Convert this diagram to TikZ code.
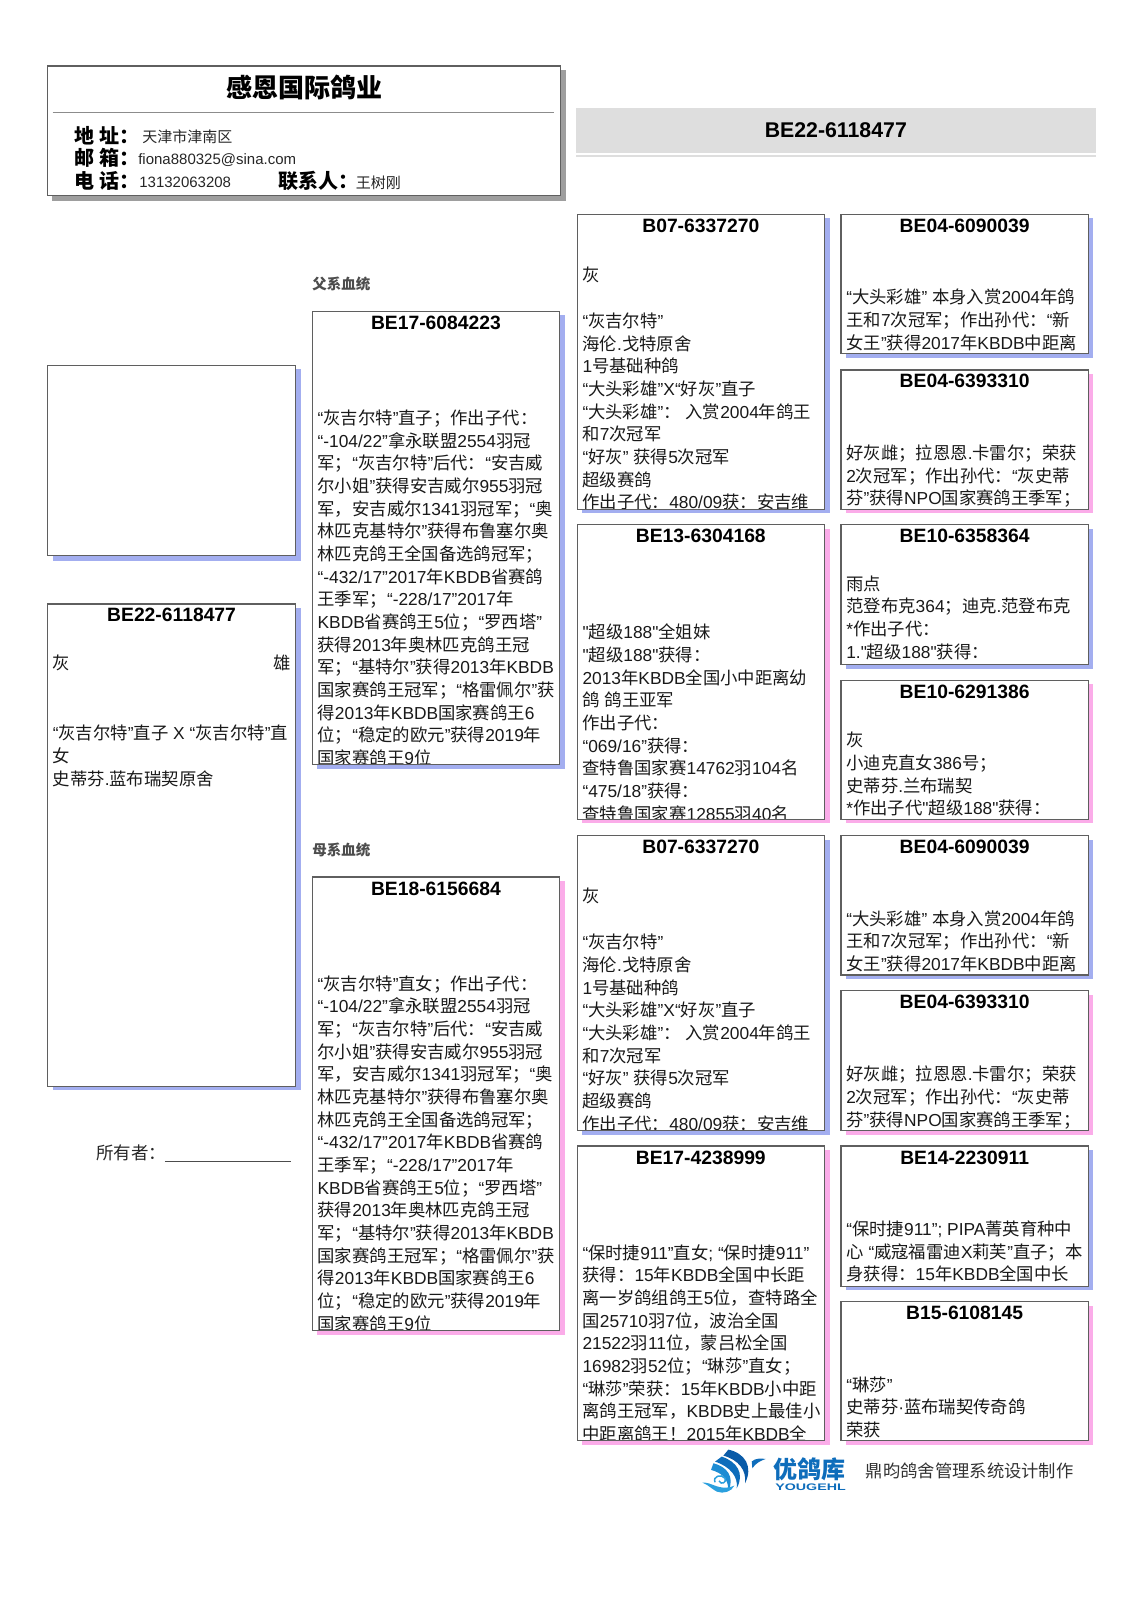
\documentclass[tikz,border=0pt]{standalone}
\usepackage{fontspec}
\defaultfontfeatures[\rmfamily]{}
\setmainfont{Liberation Sans}
\newfontfamily\cjkfam{Noto Sans CJK SC}
\XeTeXinterchartokenstate=1
\newXeTeXintercharclass\cjkclass
\newcount\chcnt
\chcnt="4E00 \loop \XeTeXcharclass\chcnt=\cjkclass \advance\chcnt by 1 \ifnum\chcnt<"A000 \repeat
\chcnt="3000 \loop \XeTeXcharclass\chcnt=\cjkclass \advance\chcnt by 1 \ifnum\chcnt<"3040 \repeat
\chcnt="FF00 \loop \XeTeXcharclass\chcnt=\cjkclass \advance\chcnt by 1 \ifnum\chcnt<"FFF0 \repeat
\XeTeXinterchartoks 0 \cjkclass={\cjkfam}
\XeTeXinterchartoks 4095 \cjkclass={\cjkfam}
\XeTeXinterchartoks \cjkclass 0={\rmfamily}
\XeTeXinterchartoks \cjkclass 4095={\rmfamily}
\definecolor{shblue}{HTML}{A3AEF0}
\definecolor{shpink}{HTML}{FBACE9}
\definecolor{shgray}{HTML}{9E9E9E}
\definecolor{edgegray}{HTML}{5F5F5F}
\definecolor{barbg}{HTML}{DEDEDE}
\definecolor{logodark}{HTML}{0A5BA8}
\definecolor{logomain}{HTML}{0E6DBB}
\definecolor{logomid}{HTML}{1D8CD3}
\definecolor{logolight}{HTML}{2BA0DE}
\tikzset{
  boxedge/.style={draw=edgegray,line width=1.2pt},
  titletext/.style={inner sep=0pt,anchor=center,font=\fontsize{19.3}{23}\selectfont\bfseries},
  bodytext/.style={inner sep=0pt,anchor=north west,align=left,font=\fontsize{17.35}{22.67}\selectfont,text=black!90},
  headlabel/.style={inner sep=0pt,anchor=west,font=\fontsize{20}{24}\selectfont\bfseries},
  headvalue/.style={inner sep=0pt,anchor=west,font=\fontsize{15}{18}\selectfont,text=black!85},
  sidelabel/.style={inner sep=0pt,anchor=west,font=\fontsize{14.5}{18}\selectfont\bfseries,text=black!70},
}
% name, x0, y0, x1, y1, shadow, title, y of first text line, lines
\newcommand{\pedbox}[9]{%
  \fill[#6] ({#2+5},{#3+4}) rectangle ({#4+5},{#5+4});
  \fill[white] (#2,#3) rectangle (#4,#5);
  \begin{scope}
    \clip (#2,#3) rectangle (#4,#5);
    \node[titletext] (#1-t) at ({(#2+#4)/2},{#3+11}) {#7};
    \node[bodytext] (#1-b) at ({#2+5},{#8-9}) {\rule{0pt}{16pt}#9};
  \end{scope}
  \draw[boxedge] (#2,#3) rectangle (#4,#5);
}
\begin{document}
\begin{tikzpicture}[x=1.0306pt,y=-1.0306pt]
\useasboundingbox (0,0) rectangle (1110,1568);
% header card
\fill[shgray] (50,68) rectangle (549,195);
\fill[white] (46,64) rectangle (544,190);
\draw[boxedge] (46,64) rectangle (544,190);
\node[inner sep=0pt,font=\fontsize{26}{30}\selectfont\bfseries] (firm) at (295,85) {感恩国际鸽业};
\draw[black!45,line width=1pt] (51,109) -- (538,109);
\node[headlabel] (l1) at (72,132) {地 址：};
\node[headlabel] (l2) at (72,153) {邮 箱：};
\node[headlabel] (l3) at (72,176) {电 话：};
\node[headlabel] (l4) at (270,176) {联系人：};
\node[headvalue] (v1) at (138,133) {天津市津南区};
\node[headvalue] (v2) at (134,155) {fiona880325@sina.com};
\node[headvalue] (v3) at (135,177) {13132063208};
\node[headvalue] (v4) at (345,177) {王树刚};
% grey bar
\fill[barbg] (559,105) rectangle (1063,148);
\fill[barbg] (559,150) rectangle (1063,152);
\node[inner sep=0pt,font=\fontsize{21.3}{25}\selectfont\bfseries] (bar) at (811,126) {BE22-6118477};
% side labels
\node[sidelabel] (fa) at (303,276) {父系血统};
\node[sidelabel] (mo) at (303,825) {母系血统};
% first column
\fill[shblue] (51,358) rectangle (292,544);
\fill[white] (46,354.5) rectangle (287,539);
\draw[boxedge] (46,354.5) rectangle (287,539);
\pedbox{self}{46}{586}{287}{1054}{shblue}{BE22-6118477}{711}{“灰吉尔特”直子 X “灰吉尔特”直\\女\\史蒂芬.蓝布瑞契原舍}
\node[bodytext] (colour) at (51,634) {\rule{0pt}{16pt}灰};
\node[bodytext,anchor=north east] (sex) at (282,634) {\rule{0pt}{16pt}雄};
\node[inner sep=0pt,anchor=west,font=\fontsize{17.5}{20}\selectfont,text=black!85] (owner) at (93,1119) {所有者：};
\coordinate (ownA) at (160,1127);
\coordinate (ownB) at (282,1127);
\draw[black!70,line width=1pt] (ownA) -- (ownB);
% second column
\pedbox{fa1}{303}{302}{543}{742}{shblue}{BE17-6084223}{405}{“灰吉尔特”直子；作出子代：\\“-104/22”拿永联盟2554羽冠\\军；“灰吉尔特”后代：“安吉威\\尔小姐”获得安吉威尔955羽冠\\军，安吉威尔1341羽冠军；“奥\\林匹克基特尔”获得布鲁塞尔奥\\林匹克鸽王全国备选鸽冠军；\\“-432/17”2017年KBDB省赛鸽\\王季军；“-228/17”2017年\\KBDB省赛鸽王5位；“罗西塔”\\获得2013年奥林匹克鸽王冠\\军；“基特尔”获得2013年KBDB\\国家赛鸽王冠军；“格雷佩尔”获\\得2013年KBDB国家赛鸽王6\\位；“稳定的欧元”获得2019年\\国家赛鸽王9位}
\pedbox{mo1}{303}{851}{543}{1291}{shpink}{BE18-6156684}{954}{“灰吉尔特”直女；作出子代：\\“-104/22”拿永联盟2554羽冠\\军；“灰吉尔特”后代：“安吉威\\尔小姐”获得安吉威尔955羽冠\\军，安吉威尔1341羽冠军；“奥\\林匹克基特尔”获得布鲁塞尔奥\\林匹克鸽王全国备选鸽冠军；\\“-432/17”2017年KBDB省赛鸽\\王季军；“-228/17”2017年\\KBDB省赛鸽王5位；“罗西塔”\\获得2013年奥林匹克鸽王冠\\军；“基特尔”获得2013年KBDB\\国家赛鸽王冠军；“格雷佩尔”获\\得2013年KBDB国家赛鸽王6\\位；“稳定的欧元”获得2019年\\国家赛鸽王9位}
% third column
\pedbox{g1}{560}{208}{800}{494}{shblue}{B07-6337270}{266}{灰\\~\\[1pt]“灰吉尔特”\\海伦.戈特原舍\\1号基础种鸽\\“大头彩雄”X“好灰”直子\\“大头彩雄”： 入赏2004年鸽王\\和7次冠军\\“好灰” 获得5次冠军\\超级赛鸽\\作出子代：480/09获：安吉维}
\pedbox{g2}{560}{509}{800}{795}{shpink}{BE13-6304168}{613}{"超级188"全姐妹\\"超级188"获得：\\2013年KBDB全国小中距离幼\\鸽 鸽王亚军\\作出子代：\\“069/16”获得：\\查特鲁国家赛14762羽104名\\“475/18”获得：\\查特鲁国家赛12855羽40名}
\pedbox{g3}{560}{811}{800}{1097}{shblue}{B07-6337270}{869}{灰\\~\\[1pt]“灰吉尔特”\\海伦.戈特原舍\\1号基础种鸽\\“大头彩雄”X“好灰”直子\\“大头彩雄”： 入赏2004年鸽王\\和7次冠军\\“好灰” 获得5次冠军\\超级赛鸽\\作出子代：480/09获：安吉维}
\pedbox{g4}{560}{1112}{800}{1398}{shpink}{BE17-4238999}{1215}{“保时捷911”直女; “保时捷911”\\获得：15年KBDB全国中长距\\离一岁鸽组鸽王5位，查特路全\\国25710羽7位，波治全国\\21522羽11位，蒙吕松全国\\16982羽52位；“琳莎”直女；\\“琳莎”荣获：15年KBDB小中距\\离鸽王冠军，KBDB史上最佳小\\中距离鸽王！2015年KBDB全}
% fourth column
\pedbox{h1}{816}{208}{1056}{343}{shblue}{BE04-6090039}{288}{“大头彩雄” 本身入赏2004年鸽\\王和7次冠军；作出孙代：“新\\女王”获得2017年KBDB中距离}
\pedbox{h2}{816}{359}{1056}{494}{shpink}{BE04-6393310}{439}{好灰雌；拉恩恩.卡雷尔；荣获\\2次冠军；作出孙代：“灰史蒂\\芬”获得NPO国家赛鸽王季军；}
\pedbox{h3}{816}{509}{1056}{645}{shblue}{BE10-6358364}{566}{雨点\\范登布克364；迪克.范登布克\\*作出子代：\\1."超级188"获得：}
\pedbox{h4}{816}{660}{1056}{795}{shpink}{BE10-6291386}{718}{灰\\小迪克直女386号；\\史蒂芬.兰布瑞契\\*作出子代"超级188"获得：}
\pedbox{h5}{816}{811}{1056}{946}{shblue}{BE04-6090039}{891}{“大头彩雄” 本身入赏2004年鸽\\王和7次冠军；作出孙代：“新\\女王”获得2017年KBDB中距离}
\pedbox{h6}{816}{961}{1056}{1097}{shpink}{BE04-6393310}{1042}{好灰雌；拉恩恩.卡雷尔；荣获\\2次冠军；作出孙代：“灰史蒂\\芬”获得NPO国家赛鸽王季军；}
\pedbox{h7}{816}{1112}{1056}{1248}{shblue}{BE14-2230911}{1192}{“保时捷911”; PIPA菁英育种中\\心 “威寇福雷迪X莉芙”直子；本\\身获得：15年KBDB全国中长}
\pedbox{h8}{816}{1263}{1056}{1398}{shpink}{B15-6108145}{1343}{“琳莎”\\史蒂芬·蓝布瑞契传奇鸽\\荣获}
% logo
\begin{scope}[shift={(674.4,1402)},x=0.3333pt,y=-0.3333pt]
\fill[logodark] (100,14) .. controls (150,25) and (175,65) .. (150,115) .. controls (155,75) and (130,45) .. (85,32) -- cycle;
\fill[logomain] (80,35) .. controls (125,50) and (150,85) .. (125,130) .. controls (130,95) and (105,65) .. (60,50) -- cycle;
\fill[logomid] (55,55) .. controls (95,65) and (120,95) .. (100,138) .. controls (100,105) and (85,85) .. (48,75) -- cycle;
\fill[logomain] (170,50) .. controls (180,40) and (195,40) .. (212,42) .. controls (195,48) and (182,55) .. (172,70) -- cycle;
\fill[logolight] (22,113) .. controls (50,112) and (62,130) .. (95,128) .. controls (105,127) and (112,125) .. (118,122) .. controls (110,140) and (85,148) .. (65,140) .. controls (50,132) and (40,120) .. (22,113) -- cycle;
\draw[logolight,line width=1.5pt] (60,112) .. controls (52,95) and (78,85) .. (90,100) .. controls (96,112) and (78,122) .. (72,108);
\end{scope}
\node[inner sep=0pt,anchor=west,text=logomain,font=\fontsize{24}{26}\selectfont\bfseries] (lg1) at (750,1426) {优鸽库};
\node[inner sep=0pt,anchor=west,text=logomain,xscale=1.5,font=\fontsize{9.5}{10}\selectfont\bfseries] (lg2) at (752,1443) {YOUGEHL};
\node[inner sep=0pt,anchor=west,text=black!80,font=\fontsize{17.3}{20}\selectfont] (maker) at (840,1427) {鼎昀鸽舍管理系统设计制作};
\end{tikzpicture}
\end{document}
